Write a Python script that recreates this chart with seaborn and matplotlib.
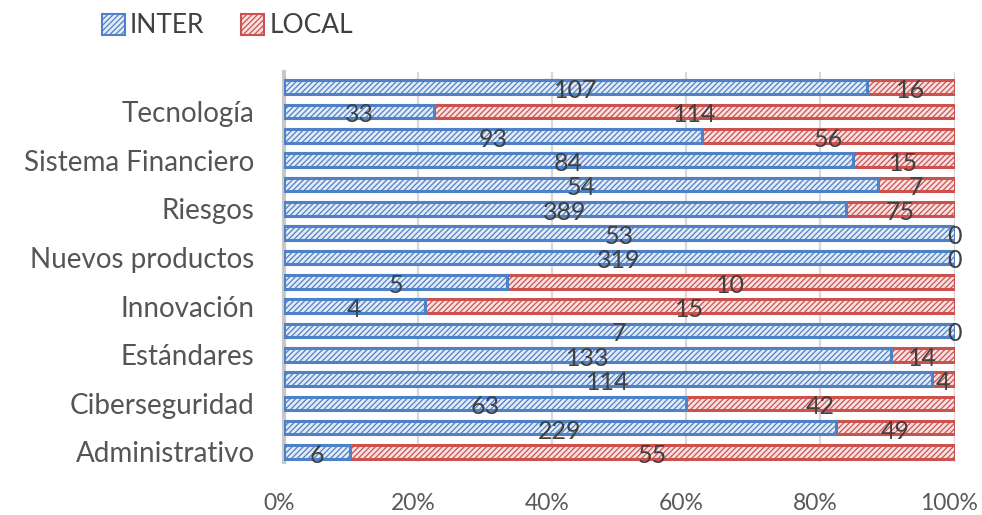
import matplotlib
matplotlib.use("Agg")
import matplotlib.pyplot as plt
import matplotlib.patches as mpatches
import matplotlib.transforms as mtransforms
import seaborn as sns
import pandas as pd
import numpy as np

# Data (top to bottom as displayed)
tick_labels = ["", "Tecnología", "", "Sistema Financiero", "", "Riesgos", "",
               "Nuevos productos", "", "Innovación", "", "Estándares", "",
               "Ciberseguridad", "", "Administrativo"]
inter = [107, 33, 93, 84, 54, 389, 53, 319, 5, 4, 7, 133, 114, 63, 229, 6]
local = [16, 114, 56, 15, 7, 75, 0, 0, 10, 15, 0, 14, 4, 42, 49, 55]
series_names = ["INTER", "LOCAL"]
x_ticks = [0, 20, 40, 60, 80, 100]

sns.set_theme(style="white")
plt.rcParams['font.family'] = ['Lato', 'DejaVu Sans']
plt.rcParams['hatch.linewidth'] = 0.9

rows = [f"r{i:02d}" for i in range(len(tick_labels))]
inter_a = np.array(inter, dtype=float)
local_a = np.array(local, dtype=float)
total = inter_a + local_a
inter_pct = inter_a / total * 100
df = pd.DataFrame({"row": rows, "inter_pct": inter_pct, "full": np.full(len(rows), 100.0)})

blue_edge = "#4f81c7"
blue_face = "#e3ebf7"
red_edge = "#cc5250"
red_face = "#f8e1e1"

fig = plt.figure(figsize=(9.82, 5.15), dpi=100)
ax = fig.add_axes([0.289, 0.103, 0.683, 0.757])

# gridlines
for t in x_ticks:
    ax.axvline(t, color="#d9d9d9", lw=1.6, zorder=0)

sns.barplot(data=df, x="full", y="row", order=rows, orient="h", ax=ax,
            color=red_face, edgecolor=red_edge, linewidth=2.2, width=0.56,
            hatch="//////", saturation=1, zorder=2)
sns.barplot(data=df, x="inter_pct", y="row", order=rows, orient="h", ax=ax,
            color=blue_face, edgecolor=blue_edge, linewidth=2.2, width=0.56,
            hatch="//////", saturation=1, zorder=3)
for p in ax.patches:
    if p.get_width() <= 0:
        p.set_visible(False)

# data labels
lab_kw = dict(ha="center", va="center", fontsize=18, color="#404040",
              textcoords="offset points", xytext=(0, -2.5), zorder=5)
for i in range(len(rows)):
    ip = inter_pct[i]
    ax.annotate(str(inter[i]), xy=(ip / 2, i), **lab_kw)
    if local[i] == 0:
        ax.annotate(str(local[i]), xy=(100, i), **lab_kw)
    else:
        ax.annotate(str(local[i]), xy=(ip + (100 - ip) / 2, i), **lab_kw)

ax.set_xlim(0, 100)
ax.set_ylim(15.41, -0.62)
ax.set_xticks(x_ticks)
ax.set_xticklabels([f"{t}%" for t in x_ticks], fontsize=16.5, color="#595959")
ax.set_yticks(range(len(rows)))
ax.set_yticklabels(tick_labels, fontsize=20, color="#555555", fontweight="normal")
ax.tick_params(axis="x", length=0, pad=22)
ax.tick_params(axis="y", length=0, pad=21)
shift = mtransforms.ScaledTranslation(-5 / 100, 0, fig.dpi_scale_trans)
for lbl in ax.get_xticklabels():
    lbl.set_transform(lbl.get_transform() + shift)
ax.set_xlabel("")
ax.set_ylabel("")
for s in ["top", "right", "bottom"]:
    ax.spines[s].set_visible(False)
ax.spines["left"].set_color("#c8c8c8")
ax.spines["left"].set_linewidth(3)
ax.spines["left"].set_zorder(1)

handles = [mpatches.Patch(facecolor=blue_face, edgecolor=blue_edge, hatch="//////", lw=1.5, label=series_names[0]),
           mpatches.Patch(facecolor=red_face, edgecolor=red_edge, hatch="//////", lw=1.5, label=series_names[1])]
leg = fig.legend(handles=handles, loc="upper left", bbox_to_anchor=(0.08, 1.02), ncol=2,
                 frameon=False, fontsize=19, handlelength=0.85, handleheight=0.85,
                 handletextpad=0.2, columnspacing=1.4)
for t in leg.get_texts():
    t.set_color("#404040")

fig.savefig("out.png", dpi=100)
